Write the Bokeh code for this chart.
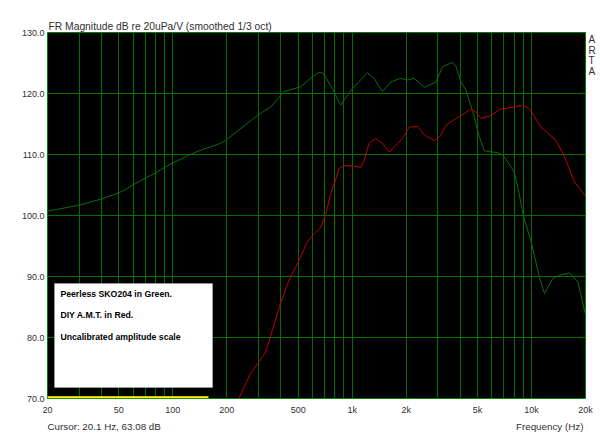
from bokeh.plotting import figure
from bokeh.models import (Range1d, FixedTicker, NumeralTickFormatter, Label, BoxAnnotation,
                          LogAxis, LinearAxis)
from bokeh.embed import file_html
from bokeh.resources import INLINE

# ---- data ----
green_freq = [20, 30, 40, 50, 60, 70, 80, 90, 100, 125, 143, 183, 197, 296, 351, 416, 516,
              587, 653, 689, 776, 863, 1003, 1216, 1325, 1476, 1643, 1868, 2035, 2216, 2523,
              2932, 3194, 3631, 3790, 4045, 4318, 4702, 5119, 5450, 6483, 6910, 7367, 8020,
              8541, 8937, 9950, 11070, 11810, 13150, 14340, 16290, 18150, 20000]
green_db = [100.7, 101.7, 102.7, 103.7, 105.0, 106.1, 107.0, 107.9, 108.6, 110.0, 110.7, 111.8,
            112.3, 116.4, 117.8, 120.3, 121.1, 122.5, 123.5, 123.3, 120.8, 118.1, 120.8, 123.4,
            122.5, 120.3, 121.9, 122.5, 122.2, 122.5, 121.0, 121.9, 124.4, 125.1, 124.4, 121.9,
            120.5, 117.0, 112.9, 110.6, 110.3, 109.9, 108.8, 107.1, 103.6, 100.3, 95.7, 89.9,
            87.2, 89.7, 90.2, 90.6, 89.1, 83.7]

red_freq = [233, 271, 302, 329, 359, 399, 444, 495, 563, 613, 668, 714, 759, 807, 845, 902,
            1024, 1115, 1164, 1242, 1354, 1476, 1610, 1791, 1908, 2080, 2318, 2523, 2871, 3070,
            3335, 3790, 4217, 4594, 4896, 5220, 5943, 6624, 7691, 8937, 9740, 11300, 13720,
            15270, 17370, 20000]
red_db = [70.0, 74.1, 76.0, 77.6, 81.2, 85.6, 89.4, 92.1, 95.7, 97.0, 98.1, 100.3, 103.6, 105.8,
          107.7, 108.2, 108.1, 107.9, 109.0, 111.8, 112.6, 111.8, 110.4, 111.8, 112.6, 114.5,
          114.6, 113.2, 112.3, 112.9, 114.8, 115.9, 116.7, 117.4, 117.0, 115.9, 116.4, 117.4,
          117.7, 118.1, 117.5, 114.5, 112.3, 109.6, 105.5, 103.2]

cursor_freq = [20, 158]
cursor_db = [70.2, 70.2]

x_ticks = [20, 50, 100, 200, 500, 1000, 2000, 5000, 10000, 20000]
x_tick_labels = ["20", "50", "100", "200", "500", "1k", "2k", "5k", "10k", "20k"]
y_ticks = [70, 80, 90, 100, 110, 120, 130]
grid_freqs = [20, 30, 40, 50, 60, 70, 80, 90, 100, 200, 300, 400, 500, 600, 700, 800, 900,
              1000, 2000, 3000, 4000, 5000, 6000, 7000, 8000, 9000, 10000, 20000]

title_text = "FR Magnitude dB re 20uPa/V (smoothed 1/3 oct)"
note_lines = ["Peerless SKO204 in Green.", "DIY A.M.T. in Red.", "Uncalibrated amplitude scale"]
cursor_text = "Cursor: 20.1 Hz, 63.08 dB"
x_label_text = "Frequency (Hz)"
brand_letters = ["A", "R", "T", "A"]

FONT = "Liberation Sans"
TXT = "#303030"

p = figure(width=600, height=434, x_axis_type="log",
           x_range=Range1d(20, 20000), y_range=Range1d(70, 130),
           output_backend="svg", toolbar_location=None,
           min_border_left=47, min_border_right=15, min_border_top=32, min_border_bottom=36,
           background_fill_color="#000000", border_fill_color="#ffffff",
           outline_line_color="#008000", outline_line_width=1)

p.title.text = title_text
p.title.align = "left"
p.title.offset = 1
p.title.standoff = 1
p.title.text_font = FONT
p.title.text_font_size = "10.3px"
p.title.text_font_style = "normal"
p.title.text_color = TXT

p.xaxis.ticker = FixedTicker(ticks=x_ticks, minor_ticks=[])
p.xaxis.major_label_overrides = {t: s for t, s in zip(x_ticks, x_tick_labels)}
p.yaxis.ticker = FixedTicker(ticks=y_ticks, minor_ticks=[])
p.yaxis.formatter = NumeralTickFormatter(format="0.0")

# second row under the x axis: cursor readout (left) and axis title (right)
info_pos = [41.4, 12630]
info_axis = LogAxis(ticker=FixedTicker(ticks=info_pos, minor_ticks=[]),
                    major_label_overrides={info_pos[0]: cursor_text, info_pos[1]: x_label_text})
p.add_layout(info_axis, "below")

# "ARTA" stacked letters on the right
brand_pos = [128.85, 127.05, 125.4, 123.6]
brand_axis = LinearAxis(ticker=FixedTicker(ticks=brand_pos, minor_ticks=[]),
                        major_label_overrides={v: c for v, c in zip(brand_pos, brand_letters)})
p.add_layout(brand_axis, "right")

for ax in p.axis:
    ax.axis_line_color = None
    ax.major_tick_line_color = None
    ax.minor_tick_line_color = None
    ax.major_tick_out = 0
    ax.major_tick_in = 0
    ax.minor_tick_out = 0
    ax.minor_tick_in = 0
    ax.major_label_text_font = FONT
    ax.major_label_text_font_size = "9px"
    ax.major_label_text_color = TXT
p.xaxis[0].major_label_standoff = 6
p.yaxis[0].major_label_standoff = 3
info_axis.major_label_text_font_size = "9.8px"
info_axis.major_label_standoff = 3
brand_axis.major_label_text_font_size = "10px"
brand_axis.major_label_standoff = 3

p.xgrid.ticker = FixedTicker(ticks=grid_freqs)
p.ygrid.ticker = FixedTicker(ticks=y_ticks)
for g in (p.xgrid, p.ygrid):
    g.grid_line_color = "#007000"
    g.grid_line_width = 1
    g.grid_line_alpha = 1.0

p.line(green_freq, green_db, line_color="#0b6e0b", line_width=1)
p.line(red_freq, red_db, line_color="#c00000", line_width=1)
p.line(cursor_freq, cursor_db, line_color="#ffff00", line_width=2)

# note box
p.add_layout(BoxAnnotation(left=21.87, right=166.5, bottom=71.8, top=88.85,
                           fill_color="#ffffff", fill_alpha=1.0,
                           line_color="#c8c8c8", line_width=1, level="overlay"))
for txt, yy in zip(note_lines, [87.13, 83.69, 80.16]):
    p.add_layout(Label(x=23.6, y=yy, text=txt, text_font=FONT, text_font_size="8.7px",
                       text_font_style="bold", text_color="#000000",
                       text_baseline="middle", text_align="left", level="overlay"))

open("out.html", "w").write(file_html(p, INLINE))
